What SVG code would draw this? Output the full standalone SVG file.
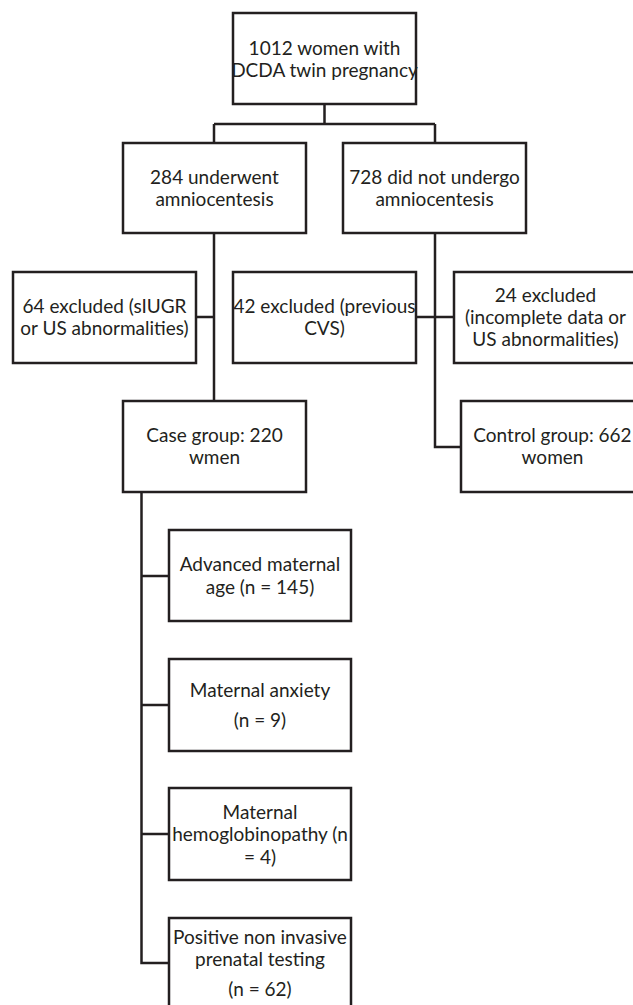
<svg xmlns="http://www.w3.org/2000/svg" width="633" height="1005" viewBox="0 0 633 1005">
<style>
.box{fill:#fff;stroke:#231f20;stroke-width:2.5}
.ln{fill:none;stroke:#231f20;stroke-width:2.5}
text{font-family:Lato,"Liberation Sans",sans-serif;font-size:19px;fill:#231f20;text-anchor:middle}
</style>
<rect width="633" height="1005" fill="#fff"/>
<g id="connectors">
<path class="ln" d="M324.5 104V124M214 124H435M214 124V143M435 124V143"/>
<path class="ln" d="M214 233V401M196 317H214"/>
<path class="ln" d="M435 233V447H461M416 317H454"/>
<path class="ln" d="M141.5 492V963H169M141.5 576H169M141.5 705H169M141.5 834H169"/>
</g>
<g id="n1"><rect class="box" x="233" y="13" width="183" height="91"/><text x="324.5" y="55">1012 women with</text><text x="324.5" y="77">DCDA twin pregnancy</text></g>
<g id="n2"><rect class="box" x="123" y="143" width="183" height="90"/><text x="214.5" y="184">284 underwent</text><text x="214.5" y="206">amniocentesis</text></g>
<g id="n3"><rect class="box" x="343" y="143" width="183" height="90"/><text x="434.5" y="184">728 did not undergo</text><text x="434.5" y="206">amniocentesis</text></g>
<g id="n4"><rect class="box" x="13" y="272" width="183" height="91"/><text x="104.5" y="313">64 excluded (sIUGR</text><text x="104.5" y="335">or US abnormalities)</text></g>
<g id="n5"><rect class="box" x="233" y="272" width="183" height="91"/><text x="324.5" y="313">42 excluded (previous</text><text x="324.5" y="335">CVS)</text></g>
<g id="n6"><rect class="box" x="454" y="272" width="183" height="91"/><text x="545.5" y="302">24 excluded</text><text x="545.5" y="324">(incomplete data or</text><text x="545.5" y="346">US abnormalities)</text></g>
<g id="n7"><rect class="box" x="123" y="401" width="183" height="91"/><text x="214.5" y="442">Case group: 220</text><text x="214.5" y="464">wmen</text></g>
<g id="n8"><rect class="box" x="461" y="401" width="183" height="91"/><text x="552.5" y="442">Control group: 662</text><text x="552.5" y="464">women</text></g>
<g id="n9"><rect class="box" x="169" y="530" width="182" height="91"/><text x="260" y="571">Advanced maternal</text><text x="260" y="594">age (n = 145)</text></g>
<g id="n10"><rect class="box" x="169" y="659" width="182" height="92"/><text x="260" y="697">Maternal anxiety</text><text x="260" y="727">(n = 9)</text></g>
<g id="n11"><rect class="box" x="169" y="788" width="182" height="92"/><text x="260" y="819">Maternal</text><text x="260" y="841">hemoglobinopathy (n</text><text x="260" y="864">= 4)</text></g>
<g id="n12"><rect class="box" x="169" y="918" width="182" height="92"/><text x="260" y="944">Positive non invasive</text><text x="260" y="966">prenatal testing</text><text x="260" y="996">(n = 62)</text></g>
</svg>
